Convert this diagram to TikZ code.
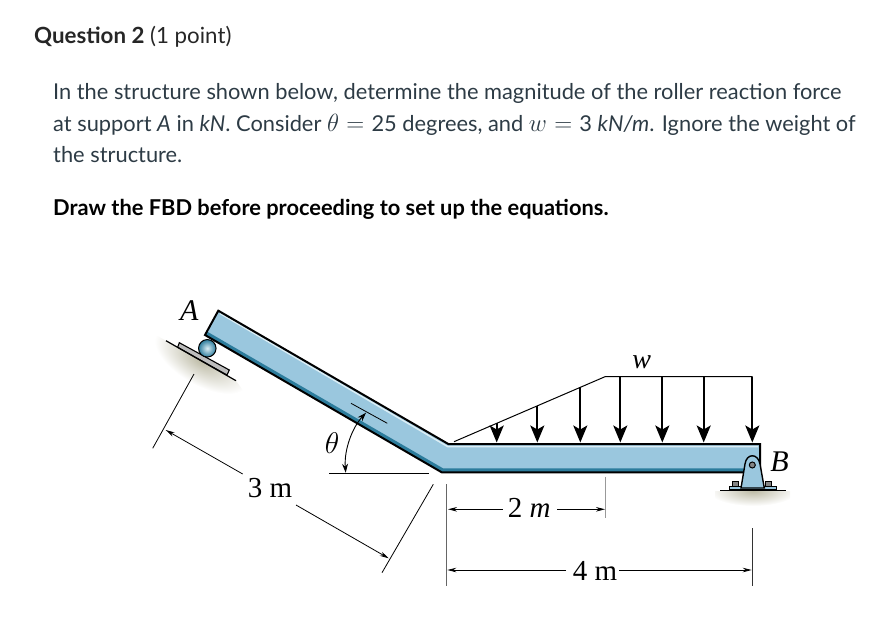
\documentclass[tikz,border=0pt]{standalone}
\usepackage{amsmath}
\usepackage{fontspec}
\setmainfont{Lato}
\newfontfamily\figfont{Liberation Serif}
\usetikzlibrary{arrows.meta}
\definecolor{beamblue}{HTML}{9AC7DE}
\definecolor{beamdark}{HTML}{2C7C9C}
\definecolor{beamlight}{HTML}{DCEEF5}
\definecolor{shadegray}{HTML}{BDBBA6}
\definecolor{plategray}{HTML}{BDBDBD}
\definecolor{qtext}{HTML}{2D3B45}
\newcommand{\bigmath}[1]{\scalebox{1.2}{$#1$}}
\tikzset{
  x=1pt,y=-1pt,
  qline/.style={anchor=base west,inner sep=0pt,text=qtext,font=\fontsize{21.83}{24}\selectfont},
  figlabel/.style={inner sep=0pt,font=\figfont\fontsize{29}{30}\selectfont},
  dimline/.style={line width=.8pt,-{Stealth[length=9pt,width=4.5pt]}},
  extline/.style={line width=.8pt},
  loadtip/.style={line width=2.1pt,-{Stealth[length=17pt,width=14pt,inset=4pt]}},
  dot/.style={circle,inner sep=0pt,minimum size=#1,draw=black,line width=1pt}
}
\begin{document}
\begin{tikzpicture}
    \useasboundingbox (0,0) rectangle (896,626);

    % text
    \node [qline,text=black!85,font=\fontsize{22.3}{24}\selectfont] (title) at (34,44) {\textbf{Question 2} (1 point)};
    \node [qline] (lineone) at (53,99) {In the structure shown below, determine the magnitude of the roller reaction force};
    \node [qline] (linetwo) at (53,131) {at support \textit{A} in \textit{kN}. Consider \bigmath{\theta}\,\,\bigmath{=}\,\,25 degrees, and \bigmath{w}\,\,\bigmath{=}\,\,3 \textit{kN/m}. Ignore the weight of};
    \node [qline] (linethree) at (53,162) {the structure.};
    \node [qline,text=black] (linefour) at (53,215) {\textbf{Draw the FBD before proceeding to set up the equations.}};

    % beam corners
    \coordinate (TL) at (218.3,310.7);
    \coordinate (BL) at (205,335);
    \coordinate (TK) at (448.3,444);
    \coordinate (BK) at (441.7,472.3);
    \coordinate (TR) at (760,444);
    \coordinate (BR) at (760,472.3);

    % ground shadows
    \begin{scope}
      \clip (166,340.7) -- (236,380.7) -- (250,400) -- (150,400) -- (150,331.5) -- cycle;
      \shade [inner color=shadegray,outer color=white,transform canvas={shift={(201pt,-360.7pt)},rotate=-30}] (0,0) ellipse [x radius=52pt,y radius=24pt];
    \end{scope}
    \begin{scope}
      \clip (715,491) rectangle (790,510);
      \shade [inner color=shadegray,outer color=white] (753,491) ellipse [x radius=44pt,y radius=15pt];
    \end{scope}

    % beam
    \fill [beamblue] (TL) -- (TK) -- (TR) -- (BR) -- (BK) -- (BL) -- cycle;
    \fill [beamdark] (BL) -- (BK) -- (BR) -- (760,468.3) -- (443,468.3) -- (207,331.5) -- cycle;
    \draw [beamlight,line width=1.4pt] (220,313.5) -- (447.6,446.6) -- (758,446.6);
    \draw [line width=2pt,line join=miter] (TL) -- (TK) -- (TR) -- (BR) -- (BK) -- (BL) -- cycle;

    % support A
    \coordinate (GA) at (166,340.7);
    \coordinate (GB) at (236,380.7);
    \draw [fill=plategray,line width=1.1pt] (179.3,342.7) -- (229.3,370) -- (227,375) -- (177.7,347.3) -- cycle;
    \draw [line width=1.2pt] (GA) -- (GB);
    \node [dot=17.5pt,inner color=beamlight,outer color=beamdark] (roller) at (207.3,348.3) {};
    \node [figlabel,font=\figfont\itshape\fontsize{30}{30}\selectfont] (A) at (189.3,310.7) {A};

    % support B
    \coordinate (GC) at (720,490.7);
    \coordinate (GD) at (786,490.7);
    \foreach \bx in {735,768} {
      \draw [fill=plategray!70!black,line width=.8pt] (\bx-3,486.5) rectangle (\bx+3,481);
    }
    \draw [fill=beamblue,line width=1.1pt] (729.3,486.7) rectangle (776.7,490);
    \draw [fill=beamblue,line width=1.4pt] (741,488) -- (745,464) .. controls (746.5,453) and (758,453) .. (760,464) -- (764.3,488) -- cycle;
    \node [dot=6pt,fill=plategray!70!black] (pin) at (752.3,465) {};
    \draw [line width=1.2pt] (GC) -- (GD);
    \node [figlabel,font=\figfont\itshape\fontsize{30}{30}\selectfont] (B) at (779.5,461.7) {B};

    % distributed load
    \coordinate (LS) at (454,441.7);
    \coordinate (LM) at (605,376.7);
    \coordinate (LE) at (752.7,376.7);
    \draw [line width=1pt] (LS) -- (LM) -- (LE);
    \foreach \n/\lx/\ly in {a/496.7/423,b/537.3/405.7,c/580.3/386.7,d/620.3/376.7,e/662.3/376.7,f/703.7/376.7,g/752.3/376.7} {
      \coordinate (tail\n) at (\lx,\ly);
      \coordinate (tip\n) at (\lx,442.5);
      \draw [loadtip] (tail\n) -- (tip\n);
    }
    \node [figlabel,font=\figfont\itshape\fontsize{28}{28}\selectfont] (w) at (641.7,362) {w};

    % angle
    \coordinate (HA) at (329.3,473.3);
    \coordinate (HB) at (429.3,473.3);
    \coordinate (SA) at (351,403.3);
    \coordinate (SB) at (387.3,423.3);
    \draw [extline] (HA) -- (HB);
    \draw [extline] (SA) -- (SB);
    \coordinate (RA) at (366,412.7);
    \coordinate (RB) at (345.7,472.7);
    \draw [line width=.9pt,{Stealth[length=9pt,width=6pt]}-{Stealth[length=9pt,width=6pt]}] (RA) .. controls (352,428) and (344,450) .. (RB);
    \node [figlabel] (theta) at (332,442.7) {\bigmath{\theta}};

    % dimension 3 m
    \coordinate (EA) at (194,374);
    \coordinate (EB) at (152.7,448.3);
    \coordinate (EC) at (433.3,484.3);
    \coordinate (ED) at (382,572.7);
    \draw [extline] (EA) -- (EB);
    \draw [extline] (EC) -- (ED);
    \node [figlabel] (threem) at (270,488) {3 m};
    \coordinate (DA) at (242.7,474);
    \coordinate (DB) at (165.7,430);
    \coordinate (DC) at (296,505);
    \coordinate (DD) at (388.7,558.3);
    \draw [dimline] (DA) -- (DB);
    \draw [dimline] (DC) -- (DD);

    % dimensions 2 m and 4 m
    \coordinate (VA) at (446.7,484);
    \coordinate (VB) at (446.7,586);
    \coordinate (VC) at (605,476.7);
    \coordinate (VD) at (605,518.3);
    \coordinate (VE) at (752.3,528.3);
    \coordinate (VF) at (752.3,586);
    \draw [extline,black!60] (VA) -- (VB);
    \draw [extline,black!40] (VC) -- (VD);
    \draw [extline,black!80] (VE) -- (VF);
    \node [figlabel] (twom) at (529.3,508) {2 \textit{m}};
    \coordinate (TA) at (502.7,509.3);
    \coordinate (TB) at (448,509.3);
    \coordinate (TC) at (557.3,509.3);
    \coordinate (TD) at (605,509.3);
    \draw [dimline] (TA) -- (TB);
    \draw [dimline] (TC) -- (TD);
    \node [figlabel] (fourm) at (595,571) {4 m};
    \coordinate (FA) at (566,570);
    \coordinate (FB) at (447.3,570);
    \coordinate (FC) at (619.3,570);
    \coordinate (FD) at (751.7,570);
    \draw [dimline] (FA) -- (FB);
    \draw [dimline] (FC) -- (FD);
\end{tikzpicture}
\end{document}
